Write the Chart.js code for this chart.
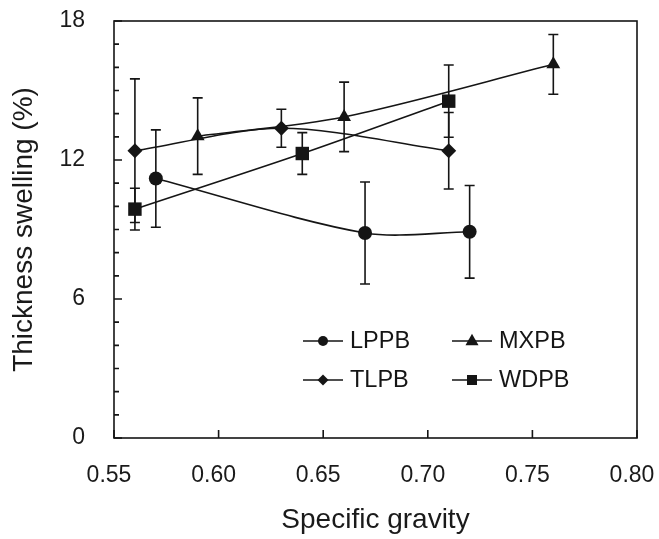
<!DOCTYPE html>
<html>
<head>
<meta charset="utf-8">
<script src="https://cdn.jsdelivr.net/npm/chart.js@4"></script>
<style>
  html, body { margin: 0; padding: 0; background: #fff; }
  #wrap { width: 659px; height: 539px; }
</style>
</head>
<body>
<div id="wrap"><canvas id="c" width="659" height="539"></canvas></div>
<script>
// values: specific gravity vs thickness swelling (%), +/- error
const lppbX = [0.57, 0.67, 0.72];
const lppbY = [11.2, 8.85, 8.9];
const lppbErr = [2.1, 2.2, 2.0];

const tlpbX = [0.56, 0.63, 0.71];
const tlpbY = [12.4, 13.37, 12.4];
const tlpbErr = [3.1, 0.82, 1.65];

const mxpbX = [0.59, 0.66, 0.76];
const mxpbY = [13.03, 13.86, 16.13];
const mxpbErr = [1.65, 1.5, 1.29];

const wdpbX = [0.56, 0.64, 0.71];
const wdpbY = [9.88, 12.28, 14.54];
const wdpbErr = [0.9, 0.9, 1.56];

const xTicks = [0.55, 0.60, 0.65, 0.70, 0.75, 0.80];
const yTicks = [0, 6, 12, 18];

const INK = '#151515';
const FONT = "'Liberation Sans', Arial, Helvetica, sans-serif";

function toPoints(xs, ys, errs) {
  return xs.map((x, i) => ({ x, y: ys[i], err: errs[i] }));
}

// small marker painter, used for the legend
function drawMarker(ctx, style, x, y, r) {
  ctx.beginPath();
  if (style === 'circle') {
    ctx.arc(x, y, r, 0, Math.PI * 2);
  } else if (style === 'rect') {
    ctx.rect(x - r, y - r, 2 * r, 2 * r);
  } else if (style === 'rectRot') {
    ctx.moveTo(x, y - r); ctx.lineTo(x + r, y); ctx.lineTo(x, y + r); ctx.lineTo(x - r, y);
  } else if (style === 'triangle') {
    ctx.moveTo(x, y - r * 1.1); ctx.lineTo(x + r, y + r * 0.65); ctx.lineTo(x - r, y + r * 0.65);
  }
  ctx.closePath();
  ctx.fill();
}

// error bars: vertical whiskers with caps, from each point's err
const errorBars = {
  id: 'errorBars',
  beforeDatasetsDraw(chart) {
    const { ctx, scales: { x, y } } = chart;
    ctx.save();
    ctx.strokeStyle = INK;
    ctx.lineWidth = 1.6;
    chart.data.datasets.forEach(ds => {
      ds.data.forEach(p => {
        const px = x.getPixelForValue(p.x);
        const top = y.getPixelForValue(p.y + p.err);
        const bot = y.getPixelForValue(p.y - p.err);
        ctx.beginPath();
        ctx.moveTo(px, top); ctx.lineTo(px, bot);
        ctx.moveTo(px - 5, top); ctx.lineTo(px + 5, top);
        ctx.moveTo(px - 5, bot); ctx.lineTo(px + 5, bot);
        ctx.stroke();
      });
    });
    ctx.restore();
  }
};

// plot frame with inward ticks (major on y every 6, minor every 1)
const frame = {
  id: 'frame',
  afterDraw(chart) {
    const { ctx, chartArea: a, scales: { x, y } } = chart;
    ctx.save();
    ctx.strokeStyle = INK;
    ctx.lineWidth = 1.6;
    ctx.strokeRect(a.left, a.top, a.right - a.left, a.bottom - a.top);
    ctx.beginPath();
    y.ticks.forEach(t => {
      const py = y.getPixelForValue(t.value);
      const len = yTicks.includes(t.value) ? 8 : 5;
      ctx.moveTo(a.left, py); ctx.lineTo(a.left + len, py);
    });
    xTicks.forEach(v => {
      const px = x.getPixelForValue(v);
      ctx.moveTo(px, a.bottom); ctx.lineTo(px, a.bottom - 8);
    });
    ctx.stroke();
    ctx.restore();
  }
};

// legend inside the plot, two columns
const boxLegend = {
  id: 'boxLegend',
  afterDraw(chart) {
    const { ctx } = chart;
    const slots = [[303, 341], [303, 380], [452, 341], [452, 380]];
    const sizes = { circle: 5, rectRot: 5.5, triangle: 6.5, rect: 5 };
    ctx.save();
    ctx.strokeStyle = INK;
    ctx.fillStyle = INK;
    ctx.lineWidth = 1.6;
    ctx.font = '23.5px ' + FONT;
    ctx.textBaseline = 'middle';
    chart.data.datasets.forEach((ds, i) => {
      const [lx, ly] = slots[i];
      ctx.beginPath();
      ctx.moveTo(lx, ly); ctx.lineTo(lx + 40, ly);
      ctx.stroke();
      drawMarker(ctx, ds.pointStyle, lx + 20, ly, sizes[ds.pointStyle]);
      ctx.fillText(ds.label, lx + 47, ly + 1);
    });
    ctx.restore();
  }
};

Chart.defaults.font.family = FONT;
Chart.defaults.font.size = 23;
Chart.defaults.color = '#1a1a1a';

const series = (label, pts, style, r) => ({
  label,
  data: pts,
  showLine: true,
  tension: 0.3,
  borderColor: INK,
  borderWidth: 1.6,
  backgroundColor: INK,
  pointStyle: style,
  pointRadius: r,
  pointHoverRadius: r,
  pointBackgroundColor: INK,
  pointBorderColor: INK,
  pointBorderWidth: 0
});

new Chart(document.getElementById('c'), {
  type: 'scatter',
  data: {
    datasets: [
      series('LPPB', toPoints(lppbX, lppbY, lppbErr), 'circle', 7),
      series('TLPB', toPoints(tlpbX, tlpbY, tlpbErr), 'rectRot', 7.5),
      series('MXPB', toPoints(mxpbX, mxpbY, mxpbErr), 'triangle', 8),
      series('WDPB', toPoints(wdpbX, wdpbY, wdpbErr), 'rect', 9.5)
    ]
  },
  options: {
    responsive: false,
    animation: false,
    layout: { padding: { top: 21, right: 22, left: 0, bottom: 0 } },
    plugins: { legend: { display: false }, tooltip: { enabled: false } },
    scales: {
      x: {
        type: 'linear',
        min: xTicks[0],
        max: xTicks[xTicks.length - 1],
        afterBuildTicks: s => { s.ticks = xTicks.map(v => ({ value: v })); },
        ticks: { padding: 24, labelOffset: -5, callback: v => v.toFixed(2), maxRotation: 0 },
        grid: { display: false, drawTicks: false },
        border: { display: false },
        title: { display: true, text: 'Specific gravity', font: { size: 28 }, padding: { top: 0, bottom: 2 } },
        afterFit: s => { s.height = 101; s.paddingLeft = 0; s.paddingRight = 0; }
      },
      y: {
        type: 'linear',
        min: 0,
        max: 18,
        ticks: { stepSize: 1, padding: 29, autoSkip: false,
                 callback: v => (yTicks.includes(v) ? String(v) : '') },
        grid: { display: false, drawTicks: false },
        border: { display: false },
        title: { display: true, text: 'Thickness swelling (%)', font: { size: 28 }, padding: { top: 7, bottom: 0 } },
        afterFit: s => { s.width = 114; s.paddingTop = 0; s.paddingBottom = 0; }
      }
    }
  },
  plugins: [errorBars, frame, boxLegend]
});
</script>
</body>
</html>
